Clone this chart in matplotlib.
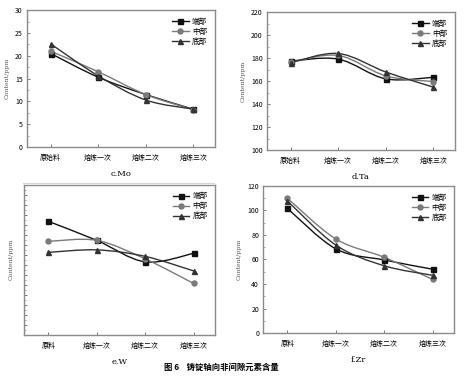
import matplotlib
matplotlib.use("Agg")
import matplotlib.pyplot as plt
import numpy as np
from matplotlib.path import Path
from matplotlib.patches import PathPatch
from matplotlib.lines import Line2D
from matplotlib.ticker import MultipleLocator, NullFormatter

plt.rcParams['font.family'] = ['Noto Sans CJK SC', 'DejaVu Sans']

series_names = ["端部", "中部", "底部"]
cats_a = ["原始料", "熔炼一次", "熔炼二次", "熔炼三次"]
cats_b = ["原料", "熔炼一次", "熔炼二次", "熔炼三次"]

mo_end = [20.5, 15.3, 11.5, 8.3]
mo_mid = [21.0, 16.5, 11.5, 8.2]
mo_bot = [22.6, 15.6, 10.3, 8.3]

ta_end = [177.4, 179.1, 161.9, 163.3]
ta_mid = [176.5, 182.3, 164.5, 159.6]
ta_bot = [176.0, 184.0, 167.9, 154.7]

w_end = [22.7, 18.9, 14.6, 16.3]
w_mid = [18.7, 18.9, 15.2, 10.3]
w_bot = [16.5, 17.0, 15.7, 12.8]

zr_end = [101.7, 68.7, 59.6, 52.1]
zr_mid = [110.0, 76.8, 61.8, 43.8]
zr_bot = [107.8, 71.8, 54.9, 47.1]

colors = ["#111111", "#7a7a7a", "#333333"]
markers = ["s", "o", "^"]


def smooth_path(x, y, t=0.5):
    # catmull-rom -> cubic bezier through the data points
    x = np.asarray(x, float)
    y = np.asarray(y, float)
    pts = np.column_stack([x, y])
    verts = [pts[0]]
    codes = [Path.MOVETO]
    n = len(pts)
    for i in range(n - 1):
        p0 = pts[i - 1] if i > 0 else pts[i]
        p1 = pts[i]
        p2 = pts[i + 1]
        p3 = pts[i + 2] if i + 2 < n else pts[i + 1]
        c1 = p1 + (p2 - p0) * t / 3
        c2 = p2 - (p3 - p1) * t / 3
        verts += [c1, c2, p2]
        codes += [Path.CURVE4] * 3
    return Path(verts, codes)


def draw_panel(ax, cats, data, title, ylim, major, minor, labels=True):
    x = np.arange(len(cats))
    handles = []
    for vals, c, m, name in zip(data, colors, markers, series_names):
        ax.add_patch(PathPatch(smooth_path(x, vals), fill=False, edgecolor=c, lw=1.0))
        ax.plot(x, vals, ls="none", marker=m, color=c, ms=3.6)
        handles.append(Line2D([], [], color=c, marker=m, ms=3.6, lw=1.0, label=name))
    ax.set_xlim(-0.5, 3.45)
    ax.set_ylim(*ylim)
    ax.set_xticks(x)
    ax.set_xticklabels(cats, fontsize=5.5)
    ax.yaxis.set_major_locator(MultipleLocator(major))
    ax.yaxis.set_minor_locator(MultipleLocator(minor))
    if not labels:
        ax.yaxis.set_major_formatter(NullFormatter())
    ax.tick_params(axis="both", direction="in", length=2.5, width=0.6, colors="#666666",
                   labelcolor="black", labelsize=5, pad=3)
    ax.tick_params(axis="x", pad=5)
    ax.tick_params(axis="y", which="minor", direction="in", length=1.5, width=0.5, colors="#888888")
    for s in ax.spines.values():
        s.set_color("#8a8a8a")
        s.set_linewidth(1.0)
    ax.set_xlabel(title, fontsize=6, family="DejaVu Serif", labelpad=6)
    ax.set_ylabel("Content/ppm", fontsize=4.5, family="DejaVu Serif", color="#555555", labelpad=4)
    leg = ax.legend(handles=handles, loc="upper right", frameon=False, fontsize=5.5,
                    handlelength=2.2, handletextpad=0.4, labelspacing=0.25,
                    borderaxespad=0.6)


fig = plt.figure(figsize=(4.65, 3.78), dpi=100)

ax_c = fig.add_axes([0.058, 0.611, 0.404, 0.362])
draw_panel(ax_c, cats_a, [mo_end, mo_mid, mo_bot], "c.Mo", (0, 30), 5, 2.5)

ax_d = fig.add_axes([0.574, 0.603, 0.404, 0.365])
draw_panel(ax_d, cats_a, [ta_end, ta_mid, ta_bot], "d.Ta", (100, 220), 20, 10)

ax_e = fig.add_axes([0.052, 0.114, 0.411, 0.397])
draw_panel(ax_e, cats_b, [w_end, w_mid, w_bot], "e.W", (0, 30), 2, 1, labels=False)

ax_f = fig.add_axes([0.566, 0.119, 0.411, 0.389])
draw_panel(ax_f, cats_b, [zr_end, zr_mid, zr_bot], "f.Zr", (0, 120), 20, 10)

fig.add_artist(Line2D([0.05, 0.46], [1 - 183 / 378, 1 - 183 / 378], color="#cccccc", lw=0.6))

fig.text(0.475, 0.022, "图 6    铸锭轴向非间隙元素含量", fontsize=6, ha="center", weight="bold")

fig.savefig("out.png", dpi=100)
